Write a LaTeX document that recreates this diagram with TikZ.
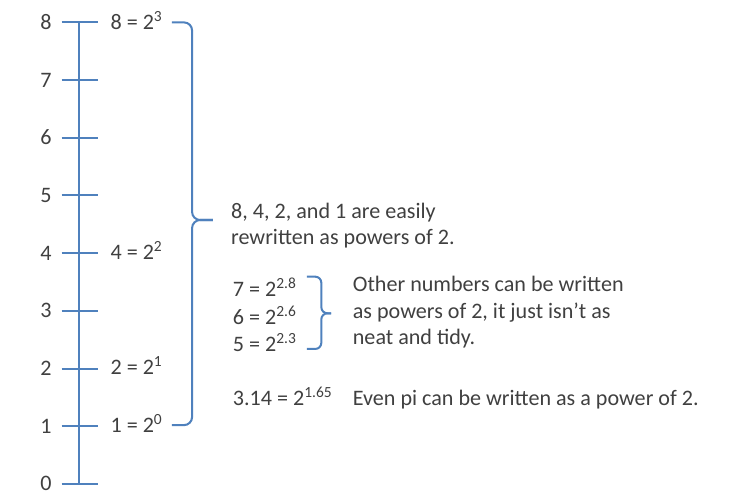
\documentclass[tikz,border=0pt]{standalone}
\usepackage{fontspec}
\setmainfont{Carlito}
\usepackage{xcolor}
\usepackage{tikz}
\usetikzlibrary{positioning}
\definecolor{axisblue}{RGB}{79,129,189}
\definecolor{textgray}{RGB}{64,64,64}

\begin{document}
\begin{tikzpicture}[
    font=\fontsize{10.9}{13.1}\selectfont, text=textgray,
    rule/.style={axisblue, line width=1pt},
    bracket/.style={axisblue, line width=1pt, rounded corners=4pt},
    num/.style={anchor=base east, inner sep=0pt},
    eqn/.style={anchor=base west, inner sep=0pt},
    note/.style={anchor=base west, inner sep=0pt, align=left}
]
    \useasboundingbox (-1.369, -0.225) rectangle (11.508, 8.388);
    % Number line
    \coordinate (bottom) at (0, 0);
    \coordinate (top) at (0, 8);
    \draw[rule] (bottom) -- (top);
    \draw[rule] (-0.30, 0) -- (0.33, 0);
    \draw[rule] (-0.30, 1) -- (0.33, 1);
    \draw[rule] (-0.30, 2) -- (0.33, 2);
    \draw[rule] (-0.30, 3) -- (0.33, 3);
    \draw[rule] (-0.30, 4) -- (0.33, 4);
    \draw[rule] (-0.30, 5) -- (0.33, 5);
    \draw[rule] (-0.30, 6) -- (0.33, 6);
    \draw[rule] (-0.30, 7) -- (0.33, 7);
    \draw[rule] (-0.30, 8) -- (0.33, 8);
    \node[num] (n0) at (-0.47, -0.12) {0};
    \node[num] (n1) at (-0.47, 0.88) {1};
    \node[num] (n2) at (-0.47, 1.88) {2};
    \node[num] (n3) at (-0.47, 2.88) {3};
    \node[num] (n4) at (-0.47, 3.88) {4};
    \node[num] (n5) at (-0.47, 4.88) {5};
    \node[num] (n6) at (-0.47, 5.88) {6};
    \node[num] (n7) at (-0.47, 6.88) {7};
    \node[num] (n8) at (-0.47, 7.88) {8};
    % Exact powers
    \node[eqn] (p8) at (0.54, 7.88) {8 = 2\textsuperscript{3}};
    \node[eqn] (p4) at (0.54, 3.89) {4 = 2\textsuperscript{2}};
    \node[eqn] (p2) at (0.54, 1.89) {2 = 2\textsuperscript{1}};
    \node[eqn] (p1) at (0.54, 0.89) {1 = 2\textsuperscript{0}};
    \draw[bracket] (1.61, 8.0) -- (1.96, 8.0) -- (1.96, 4.575) -- (2.32, 4.575);
    \draw[bracket] (1.61, 1.02) -- (1.96, 1.02) -- (1.96, 4.575) -- (2.32, 4.575);
    % (base of a two-line note is its last line)
    \node[note] (easy) at (2.63, 4.142) {8, 4, 2, and 1 are easily\\rewritten as powers of 2.};
    % Other numbers
    \node[eqn] (e7) at (2.66, 3.246) {7 = 2\textsuperscript{2.8}};
    \node[eqn] (e6) at (2.66, 2.756) {6 = 2\textsuperscript{2.6}};
    \node[eqn] (e5) at (2.66, 2.293) {5 = 2\textsuperscript{2.3}};
    \draw[bracket, rounded corners=3pt] (3.95, 3.593) -- (4.20, 3.593) -- (4.20, 2.958) -- (4.37, 2.958);
    \draw[bracket, rounded corners=3pt] (3.95, 2.34) -- (4.20, 2.34) -- (4.20, 2.958) -- (4.37, 2.958);
    \node[note] (other) at (4.74, 2.409) {Other numbers can be written\\as powers of 2, it just isn't as\\neat and tidy.};
    % Pi
    \node[eqn] (epi) at (2.66, 1.352) {3.14 = 2\textsuperscript{1.65}};
    \node[eqn] (pi) at (4.74, 1.352) {Even pi can be written as a power of 2.};
\end{tikzpicture}
\end{document}
